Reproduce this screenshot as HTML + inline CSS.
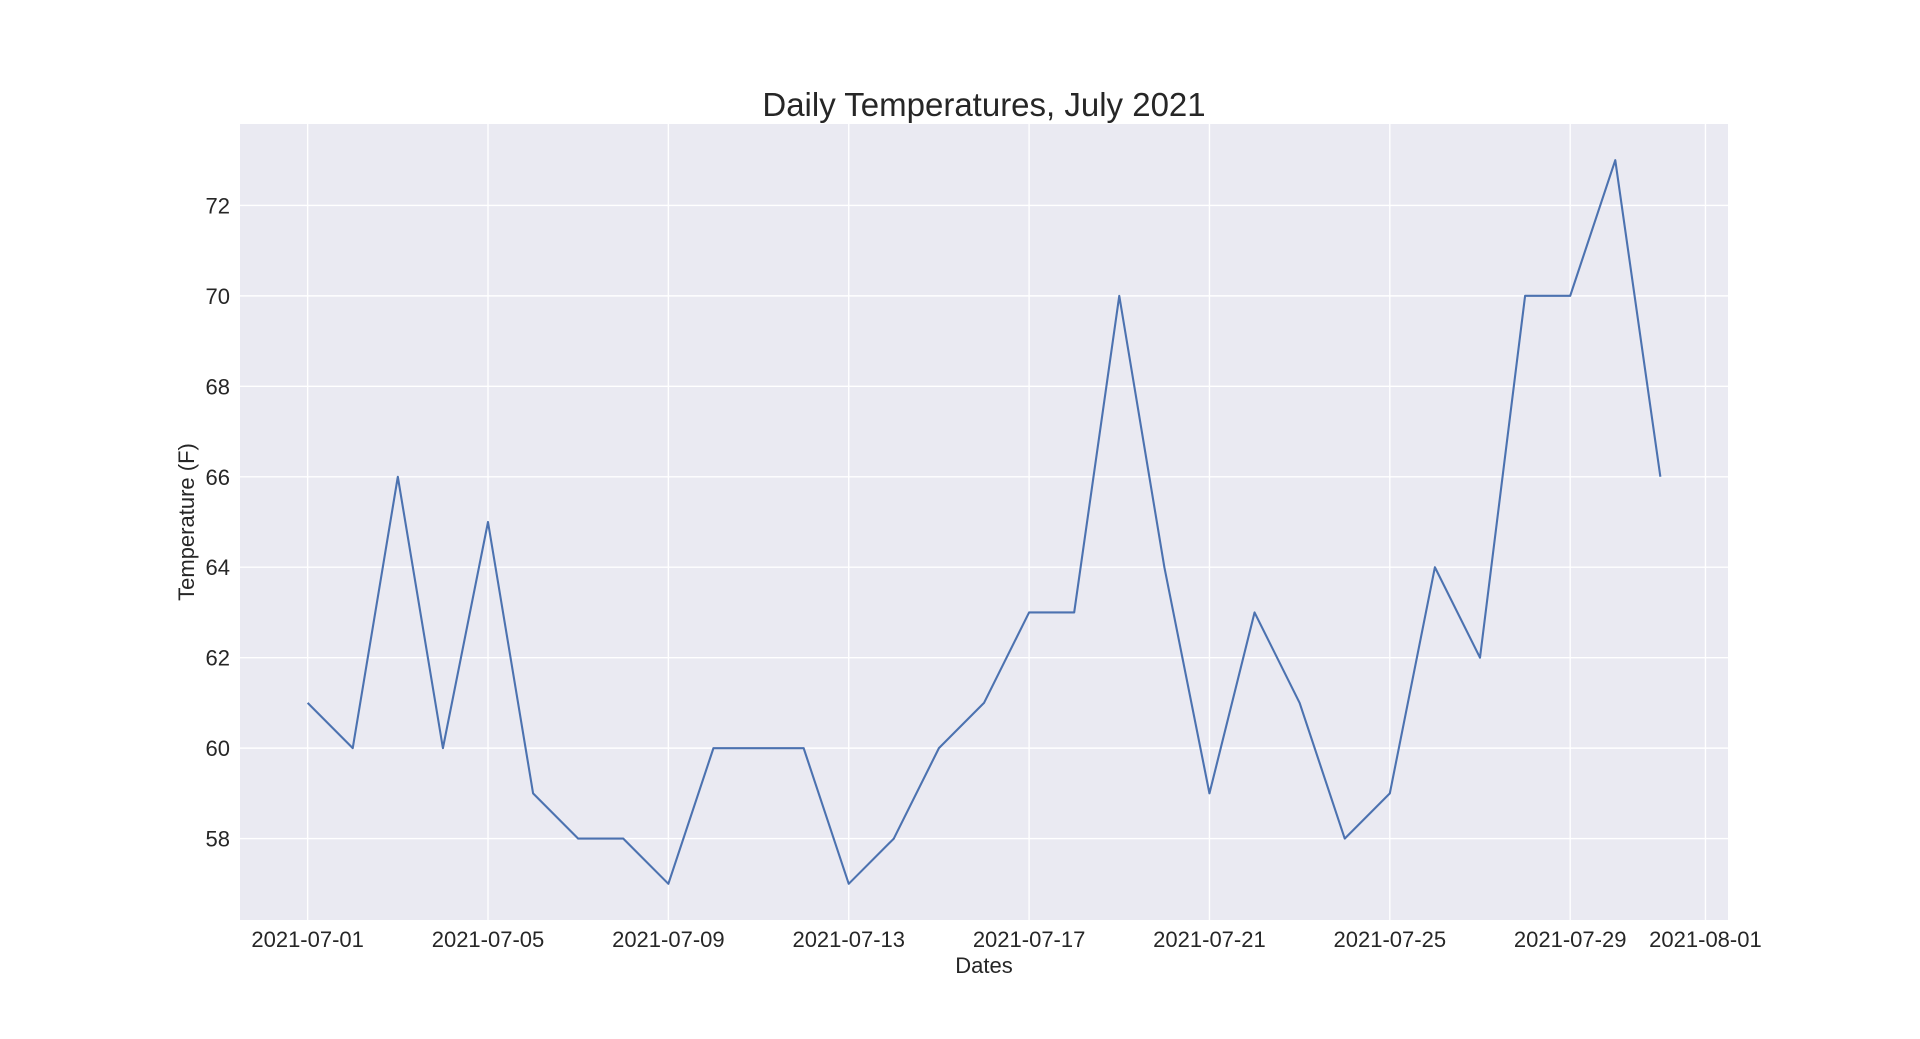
<!DOCTYPE html>
<html><head><meta charset="utf-8"><style>
html,body{margin:0;padding:0;background:#fff;}
svg text{font-family:"Liberation Sans",sans-serif;fill:#262626;}
</style></head><body>
<svg id="chart" width="1920" height="1034" viewBox="0 0 1920 1034" xmlns="http://www.w3.org/2000/svg">
<rect x="240" y="124" width="1488" height="796" fill="#EAEAF2"/>
<g id="grid"></g>
<g id="series"></g>
<g id="labels"></g>
<text x="984" y="116" font-size="33" text-anchor="middle">Daily Temperatures, July 2021</text>
<text x="984" y="973" font-size="22" text-anchor="middle">Dates</text>
<text x="194" y="522" font-size="22" text-anchor="middle" transform="rotate(-90 194 522)">Temperature (F)</text>
</svg>
<script>
const days = [1,2,3,4,5,6,7,8,9,10,11,12,13,14,15,16,17,18,19,20,21,22,23,24,25,26,27,28,29,30,31];
const temps = [61,60,66,60,65,59,58,58,57,60,60,60,57,58,60,61,63,63,70,64,59,63,61,58,59,64,62,70,70,73,66];
const xTickDays = [1,5,9,13,17,21,25,29,32];
const xTickLabels = ["2021-07-01","2021-07-05","2021-07-09","2021-07-13","2021-07-17","2021-07-21","2021-07-25","2021-07-29","2021-08-01"];
const yTicks = [58,60,62,64,66,68,70,72];

const L=240,R=1728,T=124,B=920;
const xMin=-0.5,xMax=32.5,yMin=56.2,yMax=73.8;
const xs=d=>L+(d-xMin)/(xMax-xMin)*(R-L);
const ys=v=>B-(v-yMin)/(yMax-yMin)*(B-T);
const NS="http://www.w3.org/2000/svg";
const grid=document.getElementById('grid'),lab=document.getElementById('labels'),ser=document.getElementById('series');
function mk(tag,attrs,parent){const e=document.createElementNS(NS,tag);for(const k in attrs)e.setAttribute(k,attrs[k]);parent.appendChild(e);return e;}
xTickDays.forEach((d,i)=>{
  const x=xs(d);
  const g=mk('line',{x1:x,x2:x,y1:T,y2:B,stroke:'#fff','stroke-width':1.4},grid);
  
  
  const t=mk('text',{x:x,y:947,'font-size':22,'text-anchor':'middle'},lab);
  t.textContent=xTickLabels[i];
  
  
});
yTicks.forEach(v=>{
  const y=ys(v);
  const g=mk('line',{x1:L,x2:R,y1:y,y2:y,stroke:'#fff','stroke-width':1.4},grid);
  
  
  const t=mk('text',{x:230,y:y+8,'font-size':22,'text-anchor':'end'},lab);
  t.textContent=v;
  
  
});
const pts=days.map((d,i)=>xs(d).toFixed(2)+','+ys(temps[i]).toFixed(2)).join(' ');
const pl=mk('polyline',{points:pts,fill:'none',stroke:'#4C72B0','stroke-width':2.1,'stroke-linejoin':'round'},ser);


</script>
</body></html>
